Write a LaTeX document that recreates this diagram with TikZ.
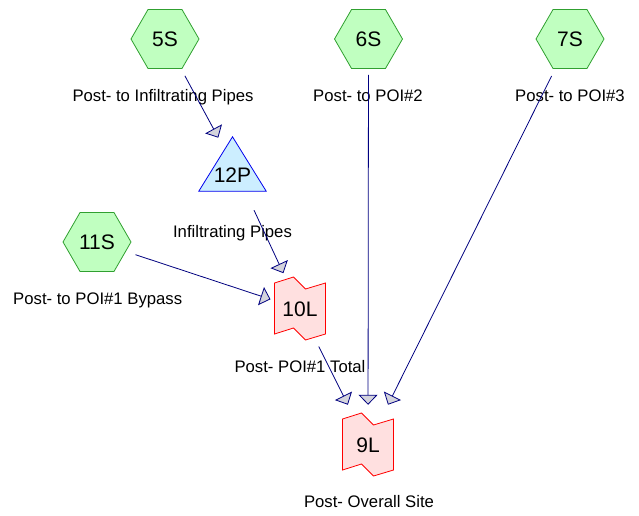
\documentclass[tikz,border=0pt]{standalone}
\usepackage{fontspec}
\setmainfont{Liberation Sans}
\usetikzlibrary{shapes.geometric,arrows.meta,backgrounds}
\definecolor{hexfill}{HTML}{C0FFC0}
\definecolor{hexline}{HTML}{30A030}
\definecolor{trifill}{HTML}{CCEEFF}
\definecolor{triline}{HTML}{0000EE}
\definecolor{tagfill}{HTML}{FFE0E0}
\definecolor{tagline}{HTML}{FF0000}
\definecolor{edgecol}{HTML}{000080}
\definecolor{tipfill}{HTML}{D4D4DC}
\newcommand\tagat[1]{\draw[tagshape] ([shift={(-25.5,-26)}]#1.center) -- ([shift={(-6.5,-32)}]#1.center) -- ([shift={(5.5,-20)}]#1.center) -- ([shift={(25.5,-26)}]#1.center) -- ([shift={(25.5,25)}]#1.center) -- ([shift={(5.5,31)}]#1.center) -- ([shift={(-6.5,19)}]#1.center) -- ([shift={(-25.5,25)}]#1.center) -- cycle;}
\begin{document}
\begin{tikzpicture}[x=1pt,y=-1pt,
  hexnode/.style={regular polygon, regular polygon sides=6, minimum size=68pt, inner sep=0pt, draw=hexline, fill=hexfill, line width=0.8pt, font=\fontsize{21}{24}\selectfont},
  boxnode/.style={rectangle, inner sep=0pt, font=\fontsize{21}{24}\selectfont},
  lab/.style={anchor=base, inner sep=0pt, font=\fontsize{16.7}{19}\selectfont},
  conn/.style={draw=edgecol, line width=0.8pt, -{Triangle[length=10pt,width=19pt,fill=tipfill]}},
  tagshape/.style={draw=tagline, fill=tagfill, line width=0.8pt},
  trishape/.style={draw=triline, fill=trifill, line width=0.8pt}]
\useasboundingbox (0,0) rectangle (639,516);

% nodes
\node[hexnode] (5S) at (165,39) {5S};
\node[hexnode] (6S) at (368.5,39) {6S};
\node[hexnode] (7S) at (570,39) {7S};
\node[hexnode] (11S) at (97,242) {11S};
\node[boxnode, minimum width=67pt, minimum height=54pt,
  label={[font=\fontsize{21}{24}\selectfont, yshift=-11pt]center:12P}] (12P) at (232.5,164) {};
\node[boxnode, minimum width=51pt, minimum height=64pt] (10L) at (300,309) {10L};
\node[boxnode, minimum width=51pt, minimum height=64pt] (9L) at (368,445) {\raisebox{-3pt}{9L}};

% custom shapes behind
\begin{scope}[on background layer]
  \fill[white] (0,0) rectangle (639,516);
  \draw[trishape] (12P.north) -- (12P.south east) -- (12P.south west) -- cycle;
  \tagat{10L}
  \tagat{9L}
\end{scope}

% labels
\node[lab] (l5) at (163,101.7) {Post- to Infiltrating Pipes};
\node[lab] (l6) at (368,101.7) {Post- to POI\#2};
\node[lab] (l7) at (570,101.7) {Post- to POI\#3};
\node[lab] (l12) at (232.5,237) {Infiltrating Pipes};
\node[lab] (l11) at (97.7,304) {Post- to POI\#1 Bypass};
\node[lab] (l10) at (300,372) {Post- POI\#1 Total};
\node[lab] (l9) at (369,507) {Post- Overall Site};

% connectors
\draw[conn, shorten <=8pt, shorten >=-1pt] (5S) -- (12P);
\draw[conn, shorten <=21pt, shorten >=4pt] (12P) -- (10L);
\draw[conn, shorten <=10pt, shorten >=4pt] (11S) -- (10L);
\draw[conn, shorten <=6pt, shorten >=9pt] (10L) -- (9L);
\draw[conn, shorten <=6pt, shorten >=8pt] (6S) -- (9L);
\draw[conn, shorten <=8pt, shorten >=9pt] (7S) -- (9L);
\end{tikzpicture}
\end{document}
